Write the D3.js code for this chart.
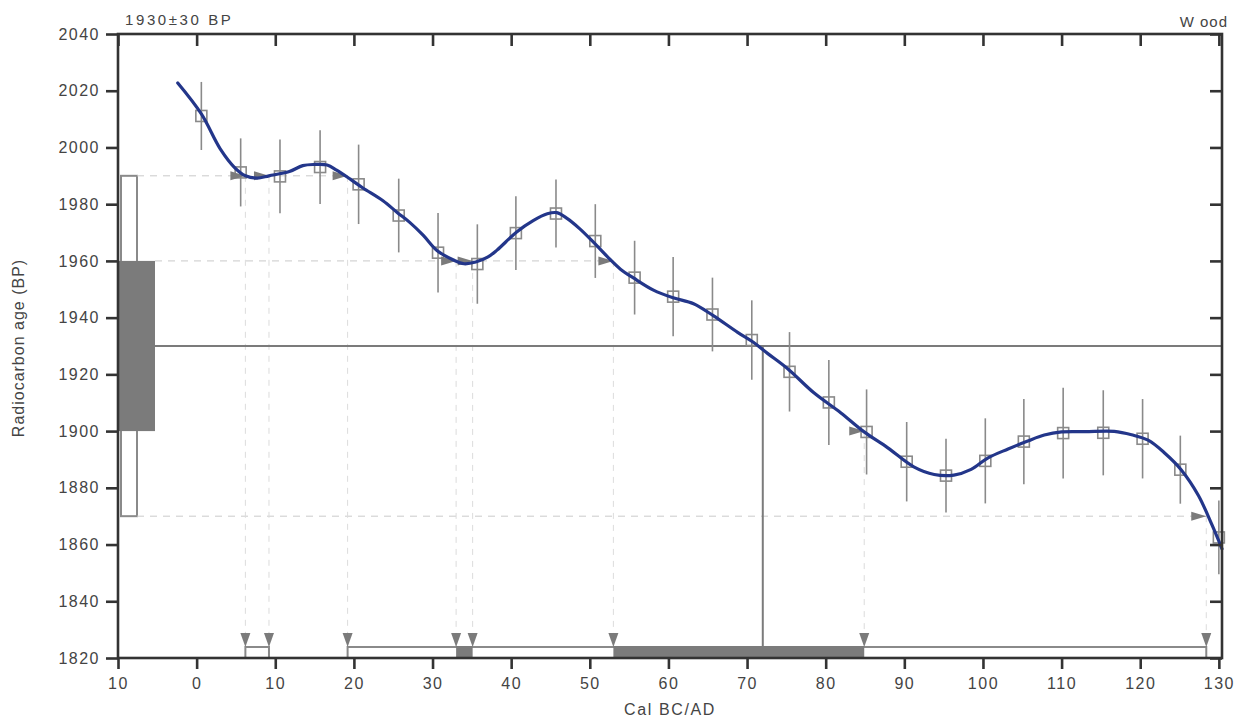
<!DOCTYPE html>
<html>
<head>
<meta charset="utf-8">
<script src="https://cdn.jsdelivr.net/npm/d3@7"></script>
<style>
  html, body { margin: 0; padding: 0; background: #fff; }
  text { font-family: "Liberation Sans", Arial, sans-serif; fill: #444; }
</style>
</head>
<body>
<div class="chart-wrapper"></div>
<script>

// calibration data points (cal year, BP, 1 sigma)
const pointYears = [0.6, 5.6, 10.6, 15.7, 20.6, 25.7, 30.7, 35.7, 40.6, 45.7, 50.7, 55.7, 60.6, 65.6, 70.6, 75.4, 80.4, 85.2, 90.3, 95.3, 100.3, 105.2, 110.2, 115.3, 120.3, 125.1, 130.0]
const pointBP = [2011.1, 1991.2, 1989.8, 1993.1, 1987.0, 1976.0, 1962.9, 1958.9, 1969.8, 1976.7, 1967.0, 1954.1, 1947.4, 1941.1, 1932.1, 1920.9, 1910.1, 1899.7, 1889.2, 1884.3, 1889.5, 1896.3, 1899.3, 1899.4, 1897.3, 1886.4, 1862.5]
const pointErr = [12, 12, 13, 13, 14, 13, 14, 14, 13, 12, 13, 13, 14, 13, 14, 14, 15, 15, 14, 13, 15, 15, 16, 15, 14, 12, 13]

// calibration curve
const curveYears = [-2.4, 0.6, 3.0, 4.8, 6.2, 7.7, 9.2, 11.8, 13.5, 15, 16.6, 17.8, 19.5, 21.1, 23.7, 25.5, 27.1, 28.8, 30.6, 32.6, 34.0, 35.5, 37.0, 38.2, 40.7, 42.8, 44.6, 45.8, 47.1, 48.7, 50.4, 52.2, 53.9, 55.6, 58.1, 60.6, 63.2, 65.7, 68.8, 70.8, 72.6, 75.2, 78.5, 81.9, 84.8, 87.9, 91.2, 93.8, 96.3, 98.5, 100.6, 103.2, 105.7, 107.8, 110, 113, 116.7, 118.9, 121, 123.1, 125.2, 127.4, 129.1, 130.4]
const curveBP = [2022.7, 2011.8, 1999.5, 1993.0, 1990.0, 1989.2, 1990.0, 1991.5, 1993.6, 1994.0, 1993.8, 1992.0, 1988.9, 1985.8, 1981.2, 1977.1, 1973.6, 1969.1, 1963.6, 1960.4, 1959.0, 1959.6, 1961.3, 1963.8, 1970.2, 1974.2, 1976.6, 1977.0, 1975.0, 1971.4, 1966.8, 1961.6, 1957.1, 1953.9, 1949.7, 1947.0, 1944.9, 1940.7, 1934.8, 1931.3, 1927.4, 1921.9, 1913.5, 1906.5, 1899.9, 1894.1, 1887.4, 1884.7, 1884.5, 1886.5, 1890.5, 1893.7, 1896.5, 1898.6, 1899.7, 1899.8, 1899.9, 1898.7, 1896.8, 1892.3, 1886.4, 1877.3, 1867.1, 1858.5]

// sample
const sampleBP = 1930
const sampleErr = 30
const medianYear = 72.0

// calibrated ranges
const ranges1s = [[33.0, 35.1], [53.0, 84.9]]
const ranges2s = [[6.2, 9.2], [19.2, 128.4]]

// intercepts of the curve with the sigma levels
const interceptLevels = [1990, 1960, 1900, 1870]
const interceptYears = [[6.2, 9.2, 19.2], [33.0, 35.1, 53.0], [84.9], [128.4]]
const dashedLevels = [1990, 1960, 1870]

const xTicks = [-10, 0, 10, 20, 30, 40, 50, 60, 70, 80, 90, 100, 110, 120, 130]
const yTicks = [1820, 1840, 1860, 1880, 1900, 1920, 1940, 1960, 1980, 2000, 2020, 2040]

const width = 1247
const height = 720
const margin = {top: 34, right: 25, bottom: 62, left: 118}

const grey = '#7b7b7b'
const axisCol = '#333'

const x = d3.scaleLinear().domain([-10, 130.4]).range([margin.left, width - margin.right])
const y = d3.scaleLinear().domain([1820, 2040]).range([height - margin.bottom, margin.top])

const svg = d3.select('.chart-wrapper')
.append('svg')
.attr('width', width)
.attr('height', height)

const x0 = x.range()[0], x1 = x.range()[1]
const y0 = y.range()[0], y1 = y.range()[1]

// sample distribution boxes on y axis
svg.append('rect')
.attr('x', x0 + 3)
.attr('y', y(sampleBP + 2 * sampleErr))
.attr('width', 16)
.attr('height', y(sampleBP - 2 * sampleErr) - y(sampleBP + 2 * sampleErr))
.attr('fill', 'none')
.attr('stroke', '#8a8a8a')
.attr('stroke-width', 2)

svg.append('rect')
.attr('x', x0 + 1)
.attr('y', y(sampleBP + sampleErr))
.attr('width', 36)
.attr('height', y(sampleBP - sampleErr) - y(sampleBP + sampleErr))
.attr('fill', grey)

// dashed level lines
svg.selectAll('.level')
.data(dashedLevels)
.enter()
.append('line')
.attr('class', 'level')
.attr('x1', d => d === sampleBP + sampleErr ? x0 + 37 : x0 + 19)
.attr('x2', d => x(d3.max(interceptYears[interceptLevels.indexOf(d)])))
.attr('y1', d => y(d))
.attr('y2', d => y(d))
.attr('stroke', '#cacaca')
.attr('stroke-width', 1)
.attr('stroke-dasharray', '7,6')

// dashed verticals from intercepts
const drops = []
interceptLevels.forEach((lvl, i) => interceptYears[i].forEach(yr => drops.push({lvl, yr})))

svg.selectAll('.drop')
.data(drops)
.enter()
.append('line')
.attr('class', 'drop')
.attr('x1', d => x(d.yr))
.attr('x2', d => x(d.yr))
.attr('y1', d => y(d.lvl))
.attr('y2', y0 - 12)
.attr('stroke', '#dcdcdc')
.attr('stroke-width', 1)
.attr('stroke-dasharray', '6,6')

// sample age line and median
svg.append('line')
.attr('x1', x0 + 37)
.attr('x2', x1)
.attr('y1', y(sampleBP))
.attr('y2', y(sampleBP))
.attr('stroke', grey)
.attr('stroke-width', 2)

svg.append('line')
.attr('x1', x(medianYear))
.attr('x2', x(medianYear))
.attr('y1', y(sampleBP))
.attr('y2', y0 - 10)
.attr('stroke', grey)
.attr('stroke-width', 2)

// error bars and squares
const pts = pointYears.map((d, i) => ({yr: d, bp: pointBP[i], err: pointErr[i]}))

svg.selectAll('.err')
.data(pts)
.enter()
.append('line')
.attr('class', 'err')
.attr('x1', d => x(d.yr))
.attr('x2', d => x(d.yr))
.attr('y1', d => y(d.bp + d.err))
.attr('y2', d => y(d.bp - d.err))
.attr('stroke', '#8a8a8a')
.attr('stroke-width', 1.6)

svg.selectAll('.sq')
.data(pts)
.enter()
.append('rect')
.attr('class', 'sq')
.attr('x', d => x(d.yr) - 5.5)
.attr('y', d => y(d.bp) - 5.5)
.attr('width', 11)
.attr('height', 11)
.attr('fill', 'none')
.attr('stroke', '#8a8a8a')
.attr('stroke-width', 1.6)

// right-pointing markers at intercepts
svg.selectAll('.tri-h')
.data(drops)
.enter()
.append('path')
.attr('class', 'tri-h')
.attr('d', d => {
	const tx = x(d.yr), ty = y(d.lvl)
	return `M${tx - 15},${ty - 4.5}L${tx},${ty}L${tx - 15},${ty + 4.5}Z`
})
.attr('fill', grey)

// calibration curve
const line = d3.line()
.x(d => x(d[0]))
.y(d => y(d[1]))
.curve(d3.curveCatmullRom.alpha(0.5))

svg.append('path')
.datum(curveYears.map((d, i) => [d, curveBP[i]]))
.attr('d', line)
.attr('fill', 'none')
.attr('stroke', '#23368a')
.attr('stroke-width', 3.2)
.attr('stroke-linejoin', 'round')
.attr('stroke-linecap', 'round')

// calibrated ranges along x axis
svg.selectAll('.r2')
.data(ranges2s)
.enter()
.append('rect')
.attr('class', 'r2')
.attr('x', d => x(d[0]))
.attr('y', y0 - 11)
.attr('width', d => x(d[1]) - x(d[0]))
.attr('height', 11)
.attr('fill', '#fff')
.attr('stroke', '#8a8a8a')
.attr('stroke-width', 2)

svg.selectAll('.r1')
.data(ranges1s)
.enter()
.append('rect')
.attr('class', 'r1')
.attr('x', d => x(d[0]))
.attr('y', y0 - 12)
.attr('width', d => x(d[1]) - x(d[0]))
.attr('height', 12)
.attr('fill', grey)

svg.selectAll('.tri-v')
.data(drops)
.enter()
.append('path')
.attr('class', 'tri-v')
.attr('d', d => {
	const tx = x(d.yr), ty = y0 - 11
	return `M${tx - 5},${ty - 14}L${tx + 5},${ty - 14}L${tx},${ty}Z`
})
.attr('fill', grey)

// axes
svg.append('rect')
.attr('x', x0)
.attr('y', y1)
.attr('width', x1 - x0)
.attr('height', y0 - y1)
.attr('fill', 'none')
.attr('stroke', axisCol)
.attr('stroke-width', 2.6)

const bottomAxis = svg.append('g')
.attr('transform', `translate(0,${y0})`)
.call(d3.axisBottom(x).tickValues(xTicks).tickSize(11).tickPadding(9).tickFormat(d => Math.abs(d)))

const leftAxis = svg.append('g')
.attr('transform', `translate(${x0},0)`)
.call(d3.axisLeft(y).tickValues(yTicks).tickSize(12).tickPadding(6).tickFormat(d3.format('d')))

const topAxis = svg.append('g')
.attr('transform', `translate(0,${y1})`)
.call(d3.axisTop(x).tickValues(xTicks).tickSize(-12).tickFormat(''))

const rightAxis = svg.append('g')
.attr('transform', `translate(${x1},0)`)
.call(d3.axisRight(y).tickValues(yTicks).tickSize(-12).tickFormat(''))

svg.selectAll('.domain').remove()

svg.selectAll('.tick line')
.attr('stroke', axisCol)
.attr('stroke-width', 2.6)

svg.selectAll('.tick text')
.style('font-family', '"Liberation Sans", Arial, sans-serif')
.style('font-size', '16px')
.style('letter-spacing', '1.5px')
.attr('fill', '#444')

// labels
svg.append('text')
.attr('x', 125)
.attr('y', 25)
.style('font-size', '15px')
.style('letter-spacing', '2.6px')
.text('1930±30 BP')

svg.append('text')
.attr('x', 1228)
.attr('y', 27)
.attr('text-anchor', 'end')
.style('font-size', '15px')
.style('letter-spacing', '1px')
.text('W ood')

svg.append('text')
.attr('transform', `translate(24,348) rotate(-90)`)
.attr('text-anchor', 'middle')
.style('font-size', '16px')
.style('letter-spacing', '1px')
.text('Radiocarbon age (BP)')

svg.append('text')
.attr('x', 670)
.attr('y', 715)
.attr('text-anchor', 'middle')
.style('font-size', '16px')
.style('letter-spacing', '1.6px')
.text('Cal BC/AD')

</script>
</body>
</html>
